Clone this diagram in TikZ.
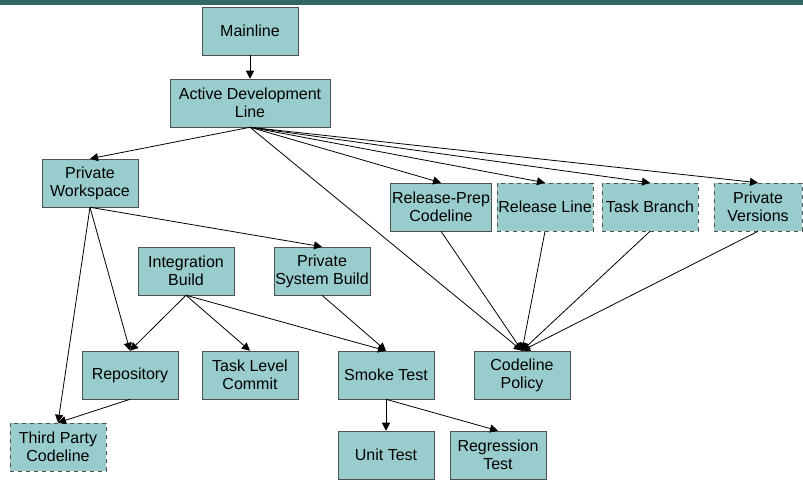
\documentclass[tikz,border=0pt]{standalone}
\usepackage{fontspec}
\setmainfont{Liberation Sans}
\usetikzlibrary{arrows.meta}
\definecolor{boxfill}{RGB}{153,204,204}
\definecolor{boxline}{RGB}{80,80,80}
\definecolor{topbar}{RGB}{51,102,102}
\begin{document}
\begin{tikzpicture}[
    x=0.75pt, y=-0.75pt,
    font=\fontsize{12}{13.5}\selectfont,
    box/.style={draw=boxline, fill=boxfill, minimum width=72pt, minimum height=36pt, inner sep=1pt, align=center},
    dbox/.style={box, dashed},
    link/.style={-{Triangle[length=6pt,width=6pt]}, black, line width=0.6pt}
]
    \useasboundingbox (0,0) rectangle (803,479);
    \fill[topbar] (0,0) rectangle (803,5);

    % Lines
    \node[box] (mainline) at (250,31) {Mainline};
    \node[box, minimum width=120pt] (active) at (250,103) {Active Development\\Line};

    % Workspace side
    \node[box] (workspace) at (90,183) {Private\\Workspace};
    \node[box] (intbuild) at (186,271) {Integration\\Build};
    \node[box] (sysbuild) at (322,271) {Private\\System Build};
    \node[box] (repo) at (130,375) {Repository};
    \node[box] (commit) at (250,375) {Task Level\\Commit};
    \node[box] (smoke) at (386,375) {Smoke Test};
    \node[dbox] (thirdparty) at (58,447) {Third Party\\Codeline};
    \node[box] (unit) at (386,455) {Unit Test};
    \node[box] (regression) at (498,455) {Regression\\Test};

    % Codelines
    \node[box] (relprep) at (441,207) {Release-Prep\\Codeline};
    \node[dbox] (relline) at (545,207) {Release Line};
    \node[dbox] (taskbranch) at (650,207) {Task Branch};
    \node[dbox, minimum width=66pt] (privversions) at (758,207) {Private\\Versions};
    \node[box] (policy) at (522,375) {Codeline\\Policy};

    % Arrows
    \draw[link] (mainline.south) -- (active.north);
    \foreach \to in {workspace, relprep, relline, taskbranch, privversions, policy}
        \draw[link] (active.south) -- (\to.north);
    \foreach \from in {relprep, relline, taskbranch, privversions}
        \draw[link] (\from.south) -- (policy.north);
    \foreach \to in {thirdparty, repo, sysbuild}
        \draw[link] (workspace.south) -- (\to.north);
    \foreach \to in {repo, commit, smoke}
        \draw[link] (intbuild.south) -- (\to.north);
    \draw[link] (sysbuild.south) -- (smoke.north);
    \draw[link] (repo.south) -- (thirdparty.north);
    \draw[link] (smoke.south) -- (unit.north);
    \draw[link] (smoke.south) -- (regression.north);
\end{tikzpicture}
\end{document}
